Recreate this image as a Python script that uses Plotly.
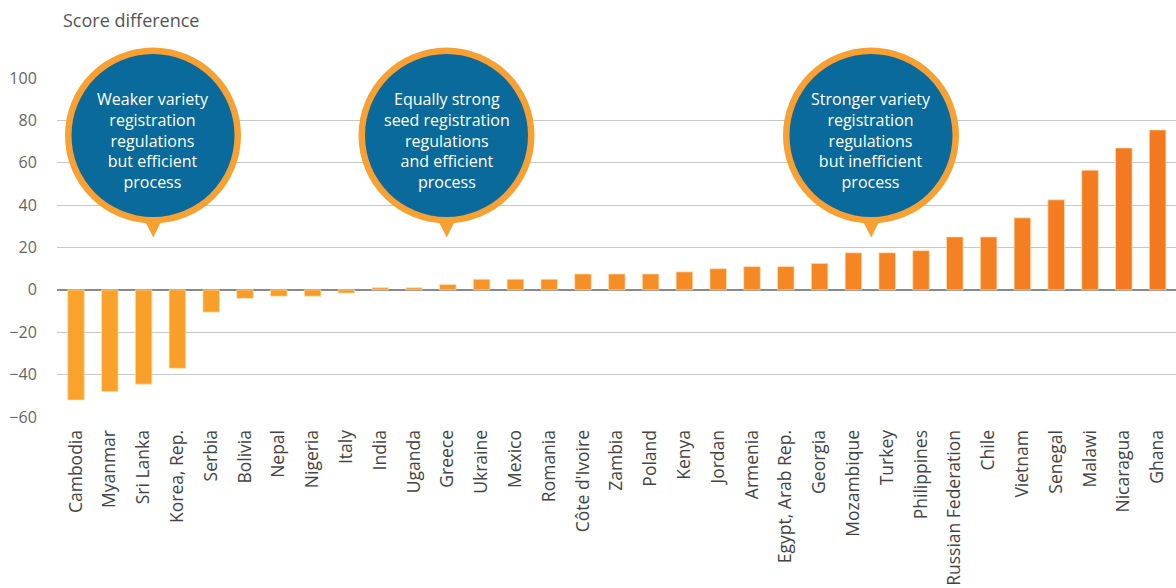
import plotly.graph_objects as go

countries = ["Cambodia", "Myanmar", "Sri Lanka", "Korea, Rep.", "Serbia", "Bolivia", "Nepal",
             "Nigeria", "Italy", "India", "Uganda", "Greece", "Ukraine", "Mexico", "Romania",
             "Côte d'Ivoire", "Zambia", "Poland", "Kenya", "Jordan", "Armenia", "Egypt, Arab Rep.",
             "Georgia", "Mozambique", "Turkey", "Philippines", "Russian Federation", "Chile",
             "Vietnam", "Senegal", "Malawi", "Nicaragua", "Ghana"]
score_diff = [-52, -48, -44.5, -37, -10.5, -4, -3, -3, -1.5, 1, 1, 2.5, 5, 5, 5,
              7.5, 7.5, 7.5, 8.5, 10, 11, 11, 12.5, 17.5, 17.5, 18.5, 25, 25,
              34, 42.5, 56.5, 67, 75.5]
y_ticks = [-60, -40, -20, 0, 20, 40, 60, 80, 100]
bubble_texts = ["Weaker variety<br>registration<br>regulations<br>but efficient<br>process",
                "Equally strong<br>seed registration<br>regulations<br>and efficient<br>process",
                "Stronger variety<br>registration<br>regulations<br>but inefficient<br>process"]

FONT = "Open Sans"
W, H = 1176, 588
L, R, T, B = 57, 1176, 78, 417

def lerp_color(c1, c2, t):
    return "rgb(%d,%d,%d)" % tuple(round(a + (b - a) * t) for a, b in zip(c1, c2))

n = len(countries)
colors = [lerp_color((249, 163, 43), (243, 121, 32), i / (n - 1)) for i in range(n)]

fig = go.Figure(go.Bar(
    x=list(range(n)), y=score_diff,
    marker=dict(color=colors, line=dict(color="rgba(255,225,180,0.9)", width=0.8)),
    width=0.49,
))

def px_x(px):
    return (px - L) / (R - L)

def px_y(py):
    return (B - py) / (B - T)

BLUE = "#0a6a9b"
ORANGE = "#f9a033"
shapes = []
annotations = []
bubble_cx = [153, 446.5, 871]
cy = 135.5
for cx, txt in zip(bubble_cx, bubble_texts):
    common = dict(xref="paper", yref="paper", xsizemode="pixel", ysizemode="pixel",
                  xanchor=px_x(cx), yanchor=px_y(cy), layer="above")
    shapes.append(dict(type="path", path="M -12 -78 L 12 -78 L 0.3 -102 Z",
                       fillcolor=ORANGE, line=dict(width=0), **common))
    shapes.append(dict(type="circle", x0=-88, x1=88, y0=-88, y1=88,
                       fillcolor=ORANGE, line=dict(width=0), **common))
    shapes.append(dict(type="circle", x0=-81.5, x1=81.5, y0=-81.5, y1=81.5,
                       fillcolor=BLUE, line=dict(width=0), **common))
    annotations.append(dict(xref="paper", yref="paper", x=px_x(cx), y=px_y(140.5),
                            text=txt, showarrow=False, xanchor="center", yanchor="middle",
                            align="center", font=dict(family=FONT, size=16, color="white")))

annotations.append(dict(xref="paper", yref="paper", x=px_x(61), y=px_y(20),
                        text="Score difference", showarrow=False, xanchor="left",
                        yanchor="middle", font=dict(family=FONT, size=18, color="#555555")))

fig.update_layout(
    width=W, height=H,
    margin=dict(l=L, r=W - R, t=T, b=H - B, pad=0),
    paper_bgcolor="white", plot_bgcolor="white",
    showlegend=False,
    shapes=shapes, annotations=annotations,
    font=dict(family=FONT),
    xaxis=dict(
        range=[-0.562, 32.544], tickmode="array", tickvals=list(range(n)), ticktext=countries,
        tickangle=-90, showgrid=False, zeroline=False, showline=False,
        tickfont=dict(family=FONT, size=17.5, color="#444444"),
        ticks="outside", ticklen=5, tickcolor="rgba(0,0,0,0)", automargin=False,
    ),
    yaxis=dict(
        range=[-60, 100], tickmode="array", tickvals=y_ticks,
        showgrid=True, gridcolor="#c8c8c8", gridwidth=1,
        zeroline=True, zerolinecolor="#8a8a8a", zerolinewidth=1.5,
        showline=False,
        tickfont=dict(family=FONT, size=16, color="#666666"),
        ticks="outside", ticklen=16, tickcolor="rgba(0,0,0,0)", automargin=False,
    ),
)

fig.write_html("out.html", config={"displayModeBar": False},
               post_script="document.body.style.margin='0';document.body.style.overflow='hidden';")
